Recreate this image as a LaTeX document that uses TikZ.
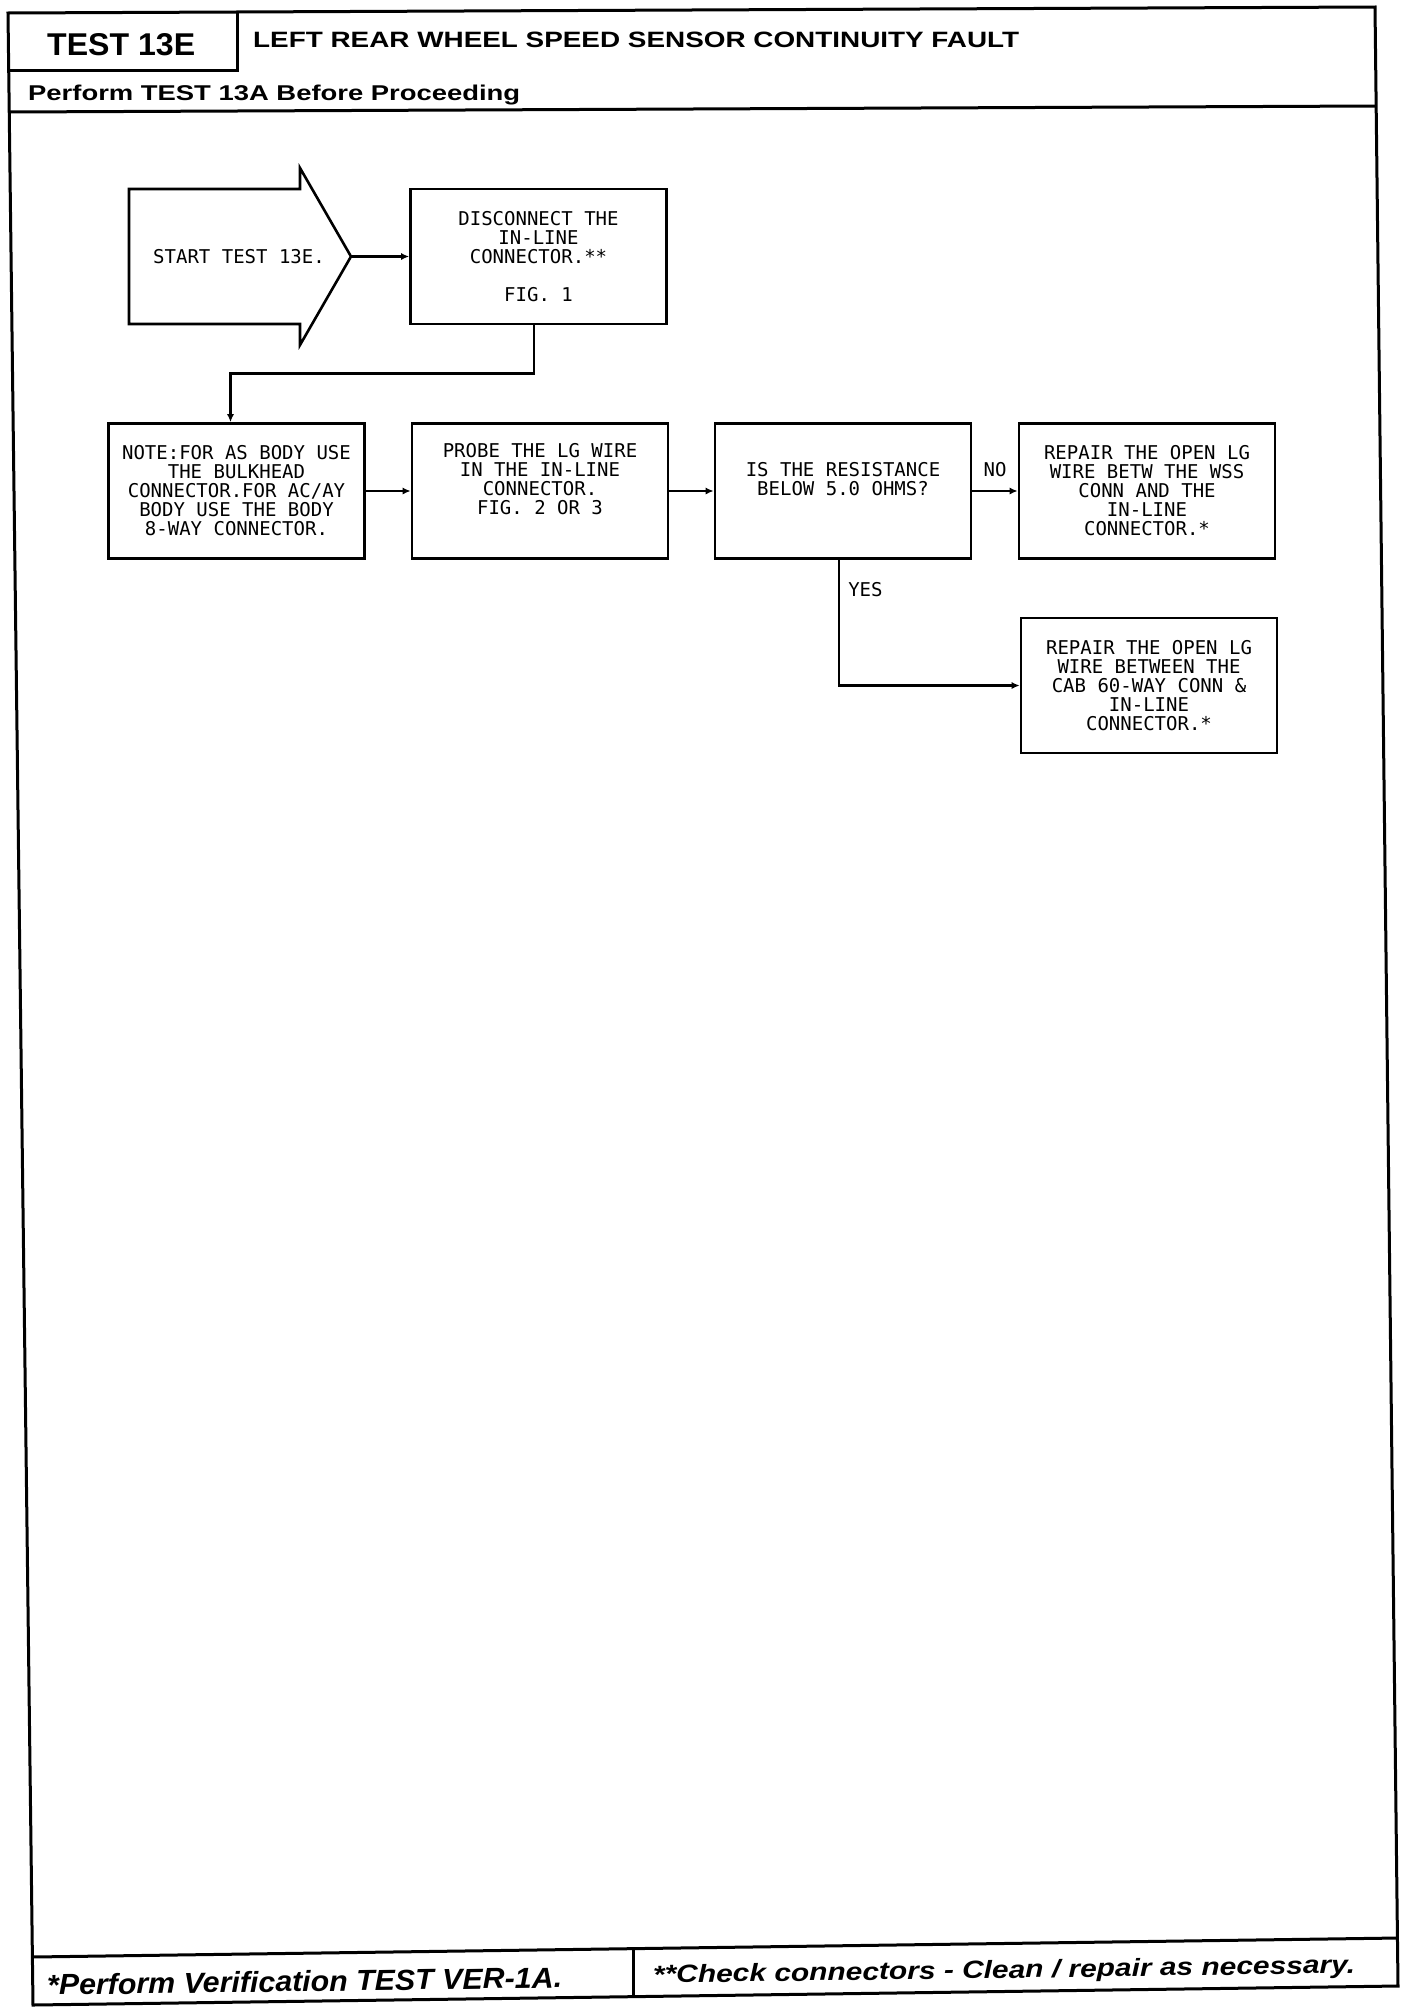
\documentclass[tikz,border=0pt]{standalone}
\usepackage{fontspec}
\usepackage{graphicx}
\usetikzlibrary{arrows.meta}
\newfontfamily\plotfont{DejaVu Sans Mono}
\newfontfamily\headfont{Liberation Sans}

\begin{document}
\begin{tikzpicture}[x=1pt,y=-1pt,
    rule/.style={line width=3pt, line join=miter},
    box/.style={draw, line width=2.6pt, minimum width=256pt, minimum height=135pt,
      inner sep=0pt, align=center, font=\plotfont\fontsize{19}{19}\selectfont},
    lbl/.style={inner sep=0pt, font=\plotfont\fontsize{19}{19}\selectfont},
    flow/.style={line width=2.5pt, -{Latex[length=8pt,width=7pt]}}]
  \useasboundingbox (0,0) rectangle (1408,2008);

  % Frame
  \draw[rule] (8,13) -- (1375,7) -- (1398,1986) -- (33,2005) -- cycle;
  \draw[rule] (237,12) -- (237,70) -- (9,70);
  \draw[rule] (9,112) -- (1376,106);
  \draw[rule] (32,1957) -- (1398,1938);
  \draw[rule] (633,1949) -- (633,1997);

  \node[anchor=base west, inner sep=0pt] (testno) at (47,55)
    {\resizebox{148pt}{22pt}{\headfont\bfseries TEST 13E}};
  \node[anchor=base west, inner sep=0pt] (title) at (253,47)
    {\resizebox{766pt}{15.5pt}{\headfont\bfseries LEFT REAR WHEEL SPEED SENSOR CONTINUITY FAULT}};
  \node[anchor=base west, inner sep=0pt] (before) at (28,100)
    {\resizebox{492pt}{15.5pt}{\headfont\bfseries Perform TEST 13A Before Proceeding}};
  \node[anchor=base west, inner sep=0pt, rotate=0.8] (verify) at (47,1995)
    {\resizebox{515pt}{21pt}{\headfont\bfseries\itshape *Perform Verification TEST VER-1A.}};
  \node[anchor=base west, inner sep=0pt, rotate=0.8] (check) at (653,1983)
    {\resizebox{702pt}{18pt}{\headfont\bfseries\itshape **Check connectors - Clean / repair as necessary.}};

  % Start arrow
  \draw[line width=2.6pt, line join=miter] (129,189) -- (300,189) -- (300,168) -- (351,256.5)
    -- (300,345) -- (300,324) -- (129,324) -- cycle;
  \coordinate (starttip) at (351,256.5);
  \node[lbl] (start) at (239,256.5) {START TEST 13E.};

  \node[box] (disc) at (538.5,256.5) {DISCONNECT THE\\IN-LINE\\CONNECTOR.**\\[19pt]FIG. 1};
  \node[box] (note) at (236.5,491) {NOTE:FOR AS BODY USE\\THE BULKHEAD\\CONNECTOR.FOR AC/AY\\BODY USE THE BODY\\8-WAY CONNECTOR.};
  \node[box] (probe) at (540,491) {PROBE THE LG WIRE\\IN THE IN-LINE\\CONNECTOR.\\FIG. 2 OR 3\\\strut};
  \node[box] (quest) at (843,491) {IS THE RESISTANCE\\BELOW 5.0 OHMS?\\\strut};
  \node[box] (repwss) at (1147,491) {REPAIR THE OPEN LG\\WIRE BETW THE WSS\\CONN AND THE\\IN-LINE\\CONNECTOR.*};
  \node[box] (repcab) at (1149,685.5) {REPAIR THE OPEN LG\\WIRE BETWEEN THE\\CAB 60-WAY CONN \&\\IN-LINE\\CONNECTOR.*};

  \draw[flow] (starttip) -- (disc.west);
  \draw[flow] ([xshift=-4.5pt]disc.south) -- ++(0,48) -| ([xshift=-6pt]note.north);
  \draw[flow] (note) -- (probe);
  \draw[flow] (probe) -- (quest);
  \draw[flow] (quest) -- node[lbl, above=13pt] (no) {NO} (repwss);
  \draw[flow] ([xshift=-4pt]quest.south) |- node[lbl, pos=0.12, right=8pt] (yes) {YES} (repcab.west);
\end{tikzpicture}
\end{document}
